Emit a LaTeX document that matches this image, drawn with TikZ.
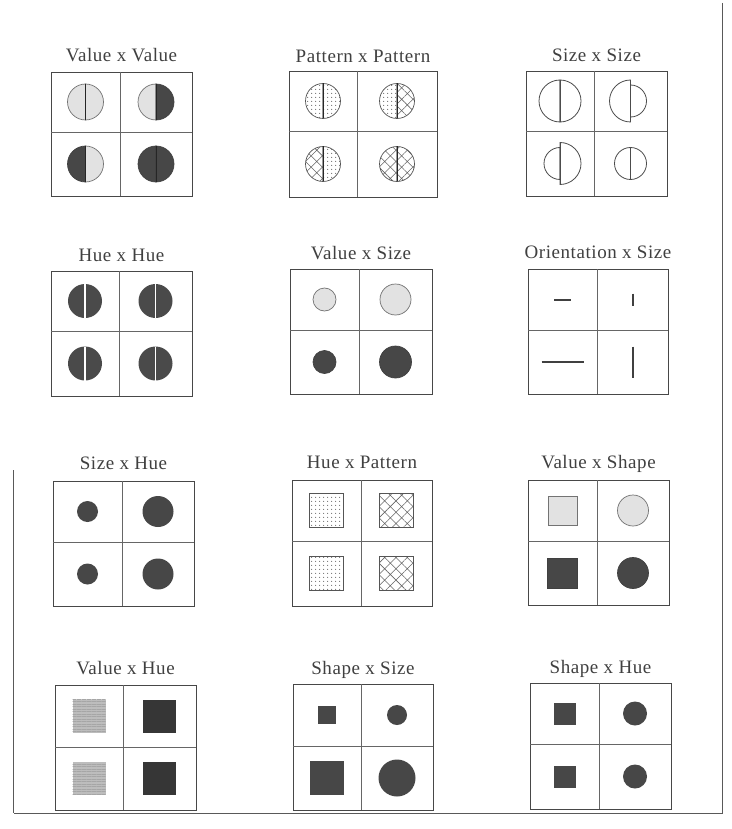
\documentclass[tikz,border=0pt]{standalone}
\usepackage{fontspec}
\setmainfont{Liberation Serif}
\newfontfamily\ttlfont[LetterSpace=3]{Liberation Serif}
\usetikzlibrary{patterns.meta,calc}
\definecolor{ink}{HTML}{555555}
\definecolor{lite}{HTML}{E2E2E2}
\definecolor{dark}{HTML}{474747}
\definecolor{deep}{HTML}{363636}
\definecolor{mid}{HTML}{BDBDBD}
\tikzset{
  boxline/.style={draw=black!72, line width=0.9pt},
  midline/.style={draw=black!60, line width=0.8pt},
  ttl/.style={font=\ttlfont\fontsize{19}{21}\selectfont, text=black!75, anchor=base, inner sep=0pt},
  framel/.style={draw=black!65, line width=0.8pt},
  litefill/.style={fill=lite, draw=black!55, line width=0.7pt},
  darkfill/.style={fill=dark, draw=black!75, line width=0.7pt},
  dotsty/.style={draw=ink, line width=0.7pt, pattern={Dots[distance=4pt,radius=0.7pt]}, pattern color=black!55},
  hatchsty/.style={draw=ink, line width=0.7pt, pattern={Hatch[angle=45,distance=8pt,line width=0.55pt]}, pattern color=black!60},
  outl/.style={draw=black!70, line width=0.8pt},
  huefill/.style={fill=deep!90!white},
  divdark/.style={draw=black!85, line width=1pt},
  divwhite/.style={draw=white, line width=1.2pt},
  divthin/.style={draw=black!70, line width=0.8pt},
  bar/.style={draw=black!75, line width=2pt},
  solid/.style={fill=dark},
  darksq/.style={fill=deep},
  midsq/.style={fill=mid, postaction={pattern={Lines[angle=0,distance=2.5pt,line width=0.5pt]}, pattern color=black!35}},
}
% panel: left, top, right, bottom, midx, midy, title, baseline, name
\newcommand{\panel}[9]{%
  \draw[boxline] (#1,#2) rectangle (#3,#4);
  \draw[midline] (#5,#2) -- (#5,#4);
  \draw[midline] (#1,#6) -- (#3,#6);
  \node[ttl] (#9) at ({(#1+#3)/2},#8) {#7};
  \coordinate (#9-a) at ({(#1+#5)/2},{(#2+#6)/2});
  \coordinate (#9-b) at ({(#5+#3)/2},{(#2+#6)/2});
  \coordinate (#9-c) at ({(#1+#5)/2},{(#6+#4)/2});
  \coordinate (#9-d) at ({(#5+#3)/2},{(#6+#4)/2});
}
% split circle: coord, left r, right r, left style, right style, divider style
\newcommand{\splitc}[6]{%
  \path[#4] ($(#1)+(0,-#2)$) arc[start angle=-90,end angle=-270,radius=#2] -- cycle;
  \path[#5] ($(#1)+(0,-#3)$) arc[start angle=-90,end angle=90,radius=#3] -- cycle;
  \draw[#6] ($(#1)+(0,{-max(#2,#3)})$) -- ($(#1)+(0,{max(#2,#3)})$);
}
\newcommand{\sqr}[3]{\path[#3] ($(#1)+(-#2,-#2)$) rectangle ($(#1)+(#2,#2)$);}
\newcommand{\disc}[3]{\path[#3] (#1) circle[radius=#2];}
\begin{document}
\begin{tikzpicture}[x=1pt,y=-1pt]
\useasboundingbox (0,0) rectangle (731,829);
\fill[white] (0,0) rectangle (731,829);
% outer frame
\draw[framel] (722,3) -- (722,813) -- (14,813);
\draw[framel] (13,470) -- (13,813);

% Row 1
\panel{51}{72}{192}{196}{120}{132}{Value x Value}{62}{vv}
\splitc{vv-a}{18}{18}{litefill}{litefill}{divdark}
\splitc{vv-b}{18}{18}{litefill}{darkfill}{divdark}
\splitc{vv-c}{18}{18}{darkfill}{litefill}{divdark}
\splitc{vv-d}{18}{18}{darkfill}{darkfill}{divdark}

\panel{289}{71}{437}{197}{357}{131}{Pattern x Pattern}{63}{pp}
\splitc{pp-a}{17.5}{17.5}{dotsty}{dotsty}{divdark}
\splitc{pp-b}{17.5}{17.5}{dotsty}{hatchsty}{divdark}
\splitc{pp-c}{17.5}{17.5}{hatchsty}{dotsty}{divdark}
\splitc{pp-d}{17.5}{17.5}{hatchsty}{hatchsty}{divdark}

\panel{526}{71}{667}{196}{594}{131}{Size x Size}{62}{ss}
\splitc{ss-a}{21}{21}{outl}{outl}{divthin}
\splitc{ss-b}{21}{16}{outl}{outl}{divthin}
\splitc{ss-c}{16}{21}{outl}{outl}{divthin}
\splitc{ss-d}{16}{16}{outl}{outl}{divthin}

% Row 2
\panel{51}{271}{192}{396}{119}{331}{Hue x Hue}{261}{hh}
\splitc{hh-a}{17}{17}{huefill}{huefill}{divwhite}
\splitc{hh-b}{17}{17}{huefill}{huefill}{divwhite}
\splitc{hh-c}{17}{17}{huefill}{huefill}{divwhite}
\splitc{hh-d}{17}{17}{huefill}{huefill}{divwhite}

\panel{290}{269}{432}{394}{359}{330}{Value x Size}{259}{vs}
\disc{vs-a}{11.5}{litefill}
\disc{vs-b}{15.5}{litefill}
\disc{vs-c}{11.5}{darkfill}
\disc{vs-d}{16}{darkfill}

\panel{528}{269}{668}{394}{597}{330}{Orientation x Size}{258}{os}
\draw[bar] ($(os-a)+(-8.5,0)$) -- ($(os-a)+(8.5,0)$);
\draw[bar] ($(os-b)+(0,-6)$) -- ($(os-b)+(0,6)$);
\draw[bar] ($(os-c)+(-21,0)$) -- ($(os-c)+(21,0)$);
\draw[bar] ($(os-d)+(0,-15.5)$) -- ($(os-d)+(0,15.5)$);

% Row 3
\panel{53}{481}{194}{606}{122}{542}{Size x Hue}{469}{sh}
\disc{sh-a}{10.5}{solid}
\disc{sh-b}{15.5}{solid}
\disc{sh-c}{10.5}{solid}
\disc{sh-d}{15.5}{solid}

\panel{292}{480}{432}{606}{361}{541}{Hue x Pattern}{468}{hp}
\sqr{hp-a}{17}{dotsty}
\sqr{hp-b}{17}{hatchsty}
\sqr{hp-c}{17}{dotsty}
\sqr{hp-d}{17}{hatchsty}

\panel{528}{480}{669}{605}{597}{541}{Value x Shape}{468}{vh}
\sqr{vh-a}{14.5}{litefill}
\disc{vh-b}{15.5}{litefill}
\sqr{vh-c}{15}{darkfill}
\disc{vh-d}{15.5}{darkfill}

% Row 4
\panel{55}{685}{196}{810}{123}{747}{Value x Hue}{674}{vu}
\sqr{vu-a}{16.5}{midsq}
\sqr{vu-b}{16.5}{darksq}
\sqr{vu-c}{16.5}{midsq}
\sqr{vu-d}{16.5}{darksq}

\panel{293}{684}{433}{810}{361}{746}{Shape x Size}{674}{sz}
\sqr{sz-a}{9}{solid}
\disc{sz-b}{10}{solid}
\sqr{sz-c}{17}{solid}
\disc{sz-d}{18.5}{solid}

\panel{530}{683}{671}{809}{599}{744}{Shape x Hue}{673}{su}
\sqr{su-a}{11}{solid}
\disc{su-b}{12}{solid}
\sqr{su-c}{11}{solid}
\disc{su-d}{12}{solid}
\end{tikzpicture}
\end{document}
